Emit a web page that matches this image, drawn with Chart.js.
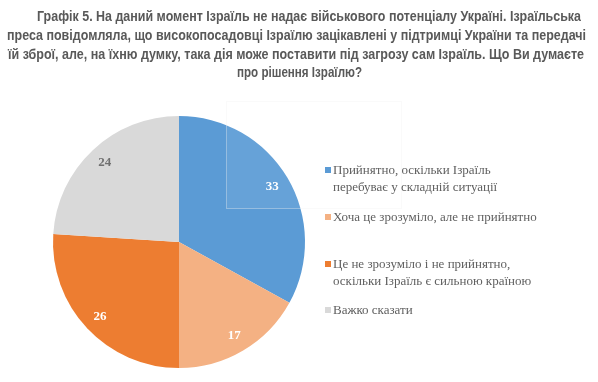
<!DOCTYPE html>
<html>
<head>
<meta charset="utf-8">
<script src="https://cdn.jsdelivr.net/npm/chart.js@4.4.1/dist/chart.umd.min.js"></script>
<style>
  html, body { margin: 0; padding: 0; background: #fff; }
  #wrap { position: relative; width: 598px; height: 382px; overflow: hidden; }
  #c { position: absolute; left: 0; top: 0; }
  #legend { position: absolute; left: 0; top: 0; width: 598px; height: 382px; pointer-events: none;
            font-family: 'Liberation Serif', 'Times New Roman', serif; font-size: 13px; color: #5f5f5f; }
  .li { position: absolute; left: 325px; line-height: 16.5px; }
  .li .sw { position: absolute; left: 0; top: 5px; width: 6px; height: 6px; }
  .li .tx { position: absolute; left: 8px; top: 0; white-space: nowrap; }
</style>
</head>
<body>
<div id="wrap">
  <canvas id="c" width="598" height="382"></canvas>
  <div id="legend"></div>
</div>
<script>
// ---- data ----
const titleLines = [
  "Графік 5. На даний момент Ізраїль не надає військового потенціалу Україні. Ізраїльська",
  "преса повідомляла, що високопосадовці Ізраїлю зацікавлені у підтримці України та передачі",
  "їй зброї, але, на їхню думку, така дія може поставити під загрозу сам Ізраїль. Що Ви думаєте",
  "про рішення Ізраїлю?"
];
const categories = [
  ["Прийнятно, оскільки Ізраїль", "перебуває у складній ситуації"],
  ["Хоча це зрозуміло, але не прийнятно"],
  ["Це не зрозуміло і не прийнятно,", "оскільки Ізраїль є сильною країною"],
  ["Важко сказати"]
];
const values = [33, 17, 26, 24];
const colors = ["#5B9BD5", "#F4B183", "#ED7D31", "#D9D9D9"];
const labelColors = ["#ffffff", "#ffffff", "#ffffff", "#707070"];

// ---- title plugin ----
const titleSpecs = [ // [left, right, centerY]
  [37, 581, 17], [7, 586, 36], [8, 584, 55], [237, 362, 73]
];
const titlePlugin = {
  id: 'customTitle',
  afterDraw(chart) {
    const ctx = chart.ctx;
    ctx.save();
    ctx.fillStyle = '#595959';
    ctx.font = "bold 14px 'Liberation Sans Narrow', 'Arial Narrow', 'Liberation Sans', sans-serif";
    ctx.textBaseline = 'middle';
    ctx.textAlign = 'center';
    titleLines.forEach((t, i) => {
      const s = titleSpecs[i];
      const w = s[1] - s[0];
      ctx.fillText(t, (s[0] + s[1]) / 2, s[2], w);
    });
    ctx.restore();
  }
};

// ---- slice value labels + faint overlay ----
const labelPlugin = {
  id: 'sliceLabels',
  afterDatasetsDraw(chart) {
    const ctx = chart.ctx;
    const meta = chart.getDatasetMeta(0);
    ctx.save();
    ctx.font = "bold 13px 'Liberation Serif', 'Times New Roman', serif";
    ctx.textAlign = 'center';
    ctx.textBaseline = 'middle';
    meta.data.forEach((arc, i) => {
      const p = arc.getProps(['x', 'y', 'startAngle', 'endAngle', 'outerRadius'], true);
      const a = (p.startAngle + p.endAngle) / 2;
      const r = p.outerRadius * 0.86;
      ctx.fillStyle = labelColors[i];
      ctx.fillText(String(values[i]), p.x + Math.cos(a) * r, p.y + Math.sin(a) * r);
    });
    // faint translucent panel seen in the reference
    ctx.fillStyle = 'rgba(255,255,255,0.07)';
    ctx.fillRect(226, 101, 176, 108);
    ctx.strokeStyle = 'rgba(240,240,240,0.35)';
    ctx.lineWidth = 1;
    ctx.strokeRect(226.5, 101.5, 175, 107);
    ctx.restore();
  }
};

new Chart(document.getElementById('c'), {
  type: 'pie',
  data: {
    labels: categories.map(c => c.join(' ')),
    datasets: [{
      data: values,
      backgroundColor: colors,
      borderWidth: 0
    }]
  },
  options: {
    responsive: false,
    animation: false,
    layout: { padding: { left: 53, right: 293, top: 116, bottom: 14 } },
    plugins: {
      legend: { display: false },
      tooltip: { enabled: false },
      title: { display: false }
    }
  },
  plugins: [labelPlugin, titlePlugin]
});

// ---- legend (HTML, built from arrays) ----
const legendTops = [162, 209, 256, 302];
const leg = document.getElementById('legend');
categories.forEach((lines, i) => {
  const d = document.createElement('div');
  d.className = 'li';
  d.style.top = legendTops[i] + 'px';
  const sw = document.createElement('div');
  sw.className = 'sw';
  sw.style.background = colors[i];
  const tx = document.createElement('div');
  tx.className = 'tx';
  tx.innerHTML = lines.map(l => l.replace(/&/g, '&amp;')).join('<br>');
  d.appendChild(sw);
  d.appendChild(tx);
  leg.appendChild(d);
});
</script>
</body>
</html>
